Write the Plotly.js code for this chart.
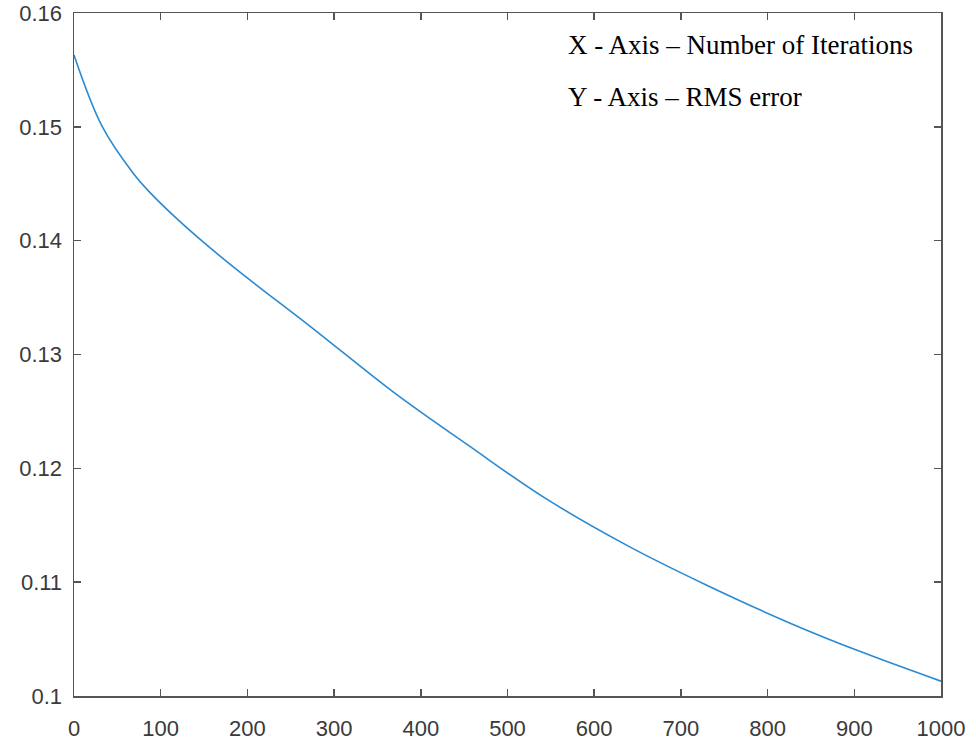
<!DOCTYPE html>
<html>
<head>
<meta charset="utf-8">
<script src="https://cdn.plot.ly/plotly-3.0.1.min.js"></script>
<style>
html,body{margin:0;padding:0;background:#fff;}
#chart{width:976px;height:742px;}
</style>
</head>
<body>
<div id="chart"></div>
<script>
// Values
const iterations = [0, 32, 68.5, 88, 122, 182, 272, 370, 457, 543, 641, 728, 826, 907, 1000];
const rmsError   = [0.1563, 0.1501, 0.1459, 0.1442, 0.1417, 0.1378, 0.1325, 0.1266, 0.1219, 0.1174, 0.1131, 0.1098, 0.1064, 0.1039, 0.1013];
const xTickVals = [0, 100, 200, 300, 400, 500, 600, 700, 800, 900, 1000];
const xTickText = ['0', '100', '200', '300', '400', '500', '600', '700', '800', '900', '1000'];
const yTickVals = [0.10, 0.11, 0.12, 0.13, 0.14, 0.15, 0.16];
const yTickText = ['0.1', '0.11', '0.12', '0.13', '0.14', '0.15', '0.16'];
const noteLines = ['X - Axis \u2013 Number of Iterations', 'Y - Axis \u2013 RMS error'];

const axisColor = '#555555';
const tickFont = {family: 'Liberation Sans, Arial, sans-serif', size: 22, color: '#3a3a3a'};
const noteFont = {family: 'Liberation Serif, Times New Roman, serif', size: 27, color: '#000'};

const trace = {
  x: iterations,
  y: rmsError,
  type: 'scatter',
  mode: 'lines',
  line: {color: '#2a8ad2', width: 1.6, shape: 'spline', smoothing: 1},
  hoverinfo: 'skip'
};

const layout = {
  width: 976,
  height: 742,
  margin: {l: 74, r: 35, t: 13, b: 46, pad: 0},
  paper_bgcolor: '#ffffff',
  plot_bgcolor: '#ffffff',
  showlegend: false,
  xaxis: {
    range: [0, 1000],
    tickvals: xTickVals,
    ticktext: xTickText,
    ticks: 'inside',
    ticklen: 7,
    tickwidth: 1.5,
    tickcolor: axisColor,
    showline: true,
    linecolor: axisColor,
    linewidth: 1.5,
    mirror: 'ticks',
    showgrid: false,
    zeroline: false,
    tickfont: tickFont,
    ticklabelstandoff: 12
  },
  yaxis: {
    range: [0.10, 0.16],
    tickvals: yTickVals,
    ticktext: yTickText,
    ticks: 'inside',
    ticklen: 7,
    tickwidth: 1.5,
    tickcolor: axisColor,
    showline: true,
    linecolor: axisColor,
    linewidth: 1.5,
    mirror: 'ticks',
    showgrid: false,
    zeroline: false,
    tickfont: tickFont,
    ticklabelstandoff: 6
  },
  annotations: [
    {
      text: noteLines[0], xref: 'paper', yref: 'paper',
      x: (566 - 74) / 867, y: 1 - (45 - 13) / 683,
      xanchor: 'left', yanchor: 'middle', showarrow: false,
      font: noteFont
    },
    {
      text: noteLines[1], xref: 'paper', yref: 'paper',
      x: (566 - 74) / 867, y: 1 - (97 - 13) / 683,
      xanchor: 'left', yanchor: 'middle', showarrow: false,
      font: noteFont
    }
  ]
};

Plotly.newPlot('chart', [trace], layout, {staticPlot: true, displayModeBar: false});
</script>
</body>
</html>
